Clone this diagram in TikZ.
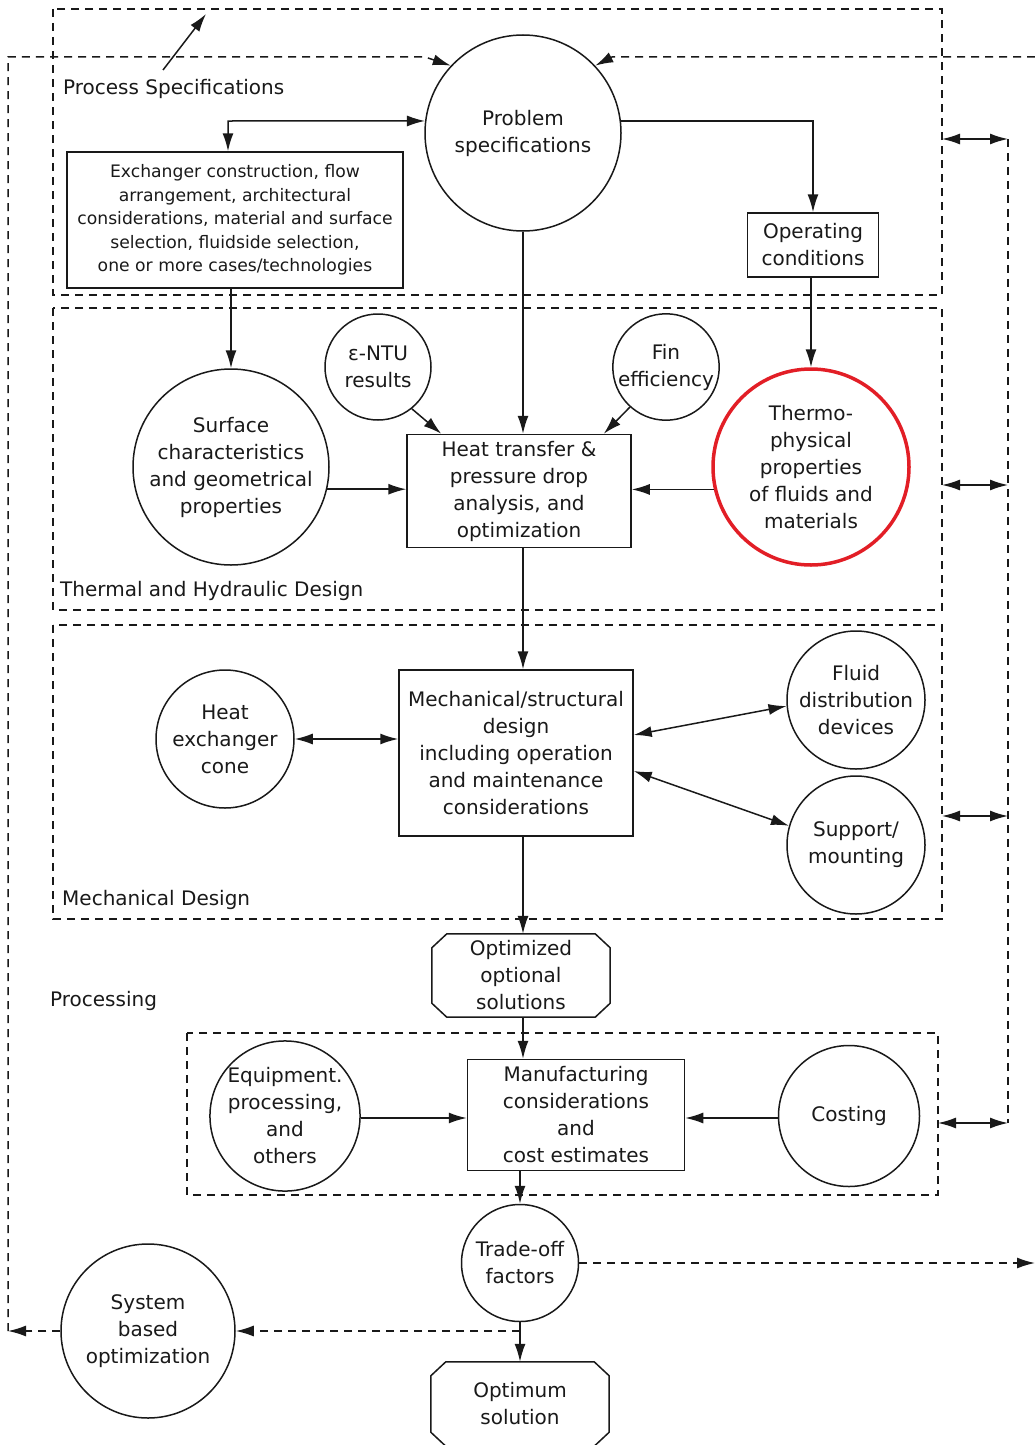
\documentclass[tikz,border=0pt]{standalone}
\usepackage{fontspec}
\setmainfont{DejaVu Sans}
\usetikzlibrary{arrows.meta}
\definecolor{tred}{RGB}{226,30,38}
\definecolor{ink}{RGB}{25,25,25}
\tikzset{
  tip/.tip={Latex[length=18pt,width=11pt]},
  ln/.style={draw=ink,line width=1.5pt},
  arr/.style={ln,-tip},
  darr/.style={ln,tip-tip},
  dsh/.style={draw=ink,line width=1.5pt,dash pattern=on 8pt off 6pt},
  darrow/.style={dsh,-tip},
  txt/.style={font=\fontsize{20}{27}\selectfont,text=ink},
  circ/.style={circle,draw=ink,line width=1.5pt,inner sep=0pt,align=center,txt},
  box/.style={rectangle,draw=ink,line width=1.5pt,inner sep=0pt,align=center,txt},
  octo/.style={rectangle,inner sep=0pt,align=center,txt},
  lbl/.style={txt,anchor=west,inner sep=0pt}
}
\newcommand{\octoline}[1]{%
  \draw[ln,line join=miter] ([xshift=15pt]#1.north west) -- ([xshift=-15pt]#1.north east)
    -- ([yshift=-14pt]#1.north east) -- ([yshift=14pt]#1.south east)
    -- ([xshift=-15pt]#1.south east) -- ([xshift=15pt]#1.south west)
    -- ([yshift=14pt]#1.south west) -- ([yshift=-14pt]#1.north west) -- cycle;}
\begin{document}
\begin{tikzpicture}[x=1pt,y=-1pt]
\useasboundingbox (0,0) rectangle (1035,1445);
% dashed group frames
\draw[dsh] (53,9) rectangle (942,295);
\draw[dsh] (53,308) rectangle (942,610);
\draw[dsh] (53,625) rectangle (942,919);
\draw[dsh] (187,1033) rectangle (938,1195);
% group labels
\node[lbl] (lps) at (63,89) {Process Specifications};
\node[lbl] (lth) at (60,591) {Thermal and Hydraulic Design};
\node[lbl] (lme) at (62,900) {Mechanical Design};
\node[lbl] (lpr) at (50,1001) {Processing};
% nodes
\node[circ,minimum size=196pt] (prob) at (523,133) {Problem\\specifications};
\node[box,minimum width=336pt,minimum height=136pt,font=\fontsize{17.2}{23.5}\selectfont] (exch) at (235,220)
  {Exchanger construction, flow\\arrangement, architectural\\considerations, material and surface\\selection, fluidside selection,\\one or more cases/technologies};
\node[box,minimum width=131pt,minimum height=64pt] (op) at (813,245) {Operating\\conditions};
\node[circ,minimum size=106pt] (ntu) at (378,367) {ε-NTU\\results};
\node[circ,minimum size=106pt] (fin) at (666,367) {Fin\\efficiency};
\node[circ,minimum size=196pt] (surf) at (231,467) {Surface\\characteristics\\and geometrical\\properties};
\node[box,minimum width=224pt,minimum height=113pt] (ht) at (519,491) {Heat transfer \&\\pressure drop\\analysis, and\\optimization};
\node[circ,draw=tred,line width=3.5pt,minimum size=196pt] (thermo) at (811,467) {Thermo-\\physical\\properties\\of fluids and\\materials};
\node[circ,minimum size=138pt] (cone) at (225,739) {Heat\\exchanger\\cone};
\node[box,minimum width=234pt,minimum height=166pt] (mech) at (516,753) {Mechanical/structural\\design\\including operation\\and maintenance\\considerations};
\node[circ,minimum size=138pt] (fluid) at (856,700) {Fluid\\distribution\\devices};
\node[circ,minimum size=138pt] (supp) at (856,845) {Support/\\mounting};
\node[octo,minimum width=178pt,minimum height=83pt] (opt) at (521,975.5) {Optimized\\optional\\solutions};
\node[circ,minimum size=141pt] (equip) at (285,1116) {Equipment.\\processing,\\and\\others};
\node[box,minimum width=217pt,minimum height=111pt] (manu) at (576,1115) {Manufacturing\\considerations\\and\\cost estimates};
\node[circ,minimum size=141pt] (cost) at (849,1116) {Costing};
\node[circ,minimum size=117pt] (trade) at (520,1263) {Trade-off\\factors};
\node[circ,minimum size=174pt] (sys) at (148,1331) {System\\based\\optimization};
\node[octo,minimum width=178pt,minimum height=84pt] (optimum) at (520,1404) {Optimum\\solution};
\octoline{opt}
\octoline{optimum}
% helper coordinates
\coordinate (b1) at (228,121);
\coordinate (psA) at (163,70);
\coordinate (psB) at (206,14);
\coordinate (tj) at (520,1331);
\coordinate (lc) at (8,1331);
\coordinate (ltop) at (8,57);
\coordinate (lbend) at (425,57);
\coordinate (rtop) at (1035,57);
\coordinate (rbend) at (612,57);
\coordinate (redge) at (1035,1263);
\coordinate (r1) at (942,139);
\coordinate (r2) at (942,485);
\coordinate (r3) at (942,816);
\coordinate (r4) at (938,1123);
\coordinate (q1) at (1008,139);
\coordinate (q2) at (1008,485);
\coordinate (q3) at (1008,816);
\coordinate (q4) at (1008,1123);
\coordinate (hy) at (0,1118);
% process spec pointer
\draw[arr] (psA) -- (psB);
% solid connectors
\draw[darr] (exch.north -| b1) -- (b1) -- (prob.173);
\draw[arr] (prob.7) -| (op.north);
\draw[arr] (prob.south) -- (prob.south |- ht.north);
\draw[arr] (exch.south -| surf.north) -- (surf.north);
\draw[arr] (op.south -| thermo.north) -- (thermo.north);
\draw[arr] (ntu.-51) -- ([xshift=35pt]ht.north west);
\draw[arr] (fin.-132) -- ([xshift=-28pt]ht.north east);
\draw[arr] (surf.-13) -- (surf.-13 -| ht.west);
\draw[arr] (thermo.193) -- (thermo.193 -| ht.east);
\draw[arr] (prob.south |- ht.south) -- (prob.south |- mech.north);
\draw[darr] (cone.east) -- (cone.east -| mech.west);
\draw[darr] ([yshift=18pt]mech.east) -- (fluid.185);
\draw[darr] ([yshift=-18pt]mech.east) -- (supp.164);
\draw[arr] (prob.south |- mech.south) -- (prob.south |- opt.north);
\draw[arr] (prob.south |- opt.south) -- (prob.south |- manu.north);
\draw[arr] (equip.east |- hy) -- (manu.west |- hy);
\draw[arr] (cost.west |- hy) -- (manu.east |- hy);
\draw[arr] (trade.north |- manu.south) -- (trade.north);
\draw[arr] (trade.south) -- (optimum.north);
% dashed feedback loops
\draw[darrow] (tj) -- (sys.east);
\draw[darrow] (trade.east) -- (redge);
\draw[darrow] (sys.west) -- (lc);
\draw[darrow] (lc) -- (ltop) -- (lbend) -- (prob.137);
\draw[darrow] (rtop) -- (rbend) -- (prob.43);
% right side links
\draw[dsh] (q1) -- (q4);
\draw[darr] (r1) -- (q1);
\draw[darr] (r2) -- (q2);
\draw[darr] (r3) -- (q3);
\draw[darr] (r4) -- (q4);
\end{tikzpicture}
\end{document}
